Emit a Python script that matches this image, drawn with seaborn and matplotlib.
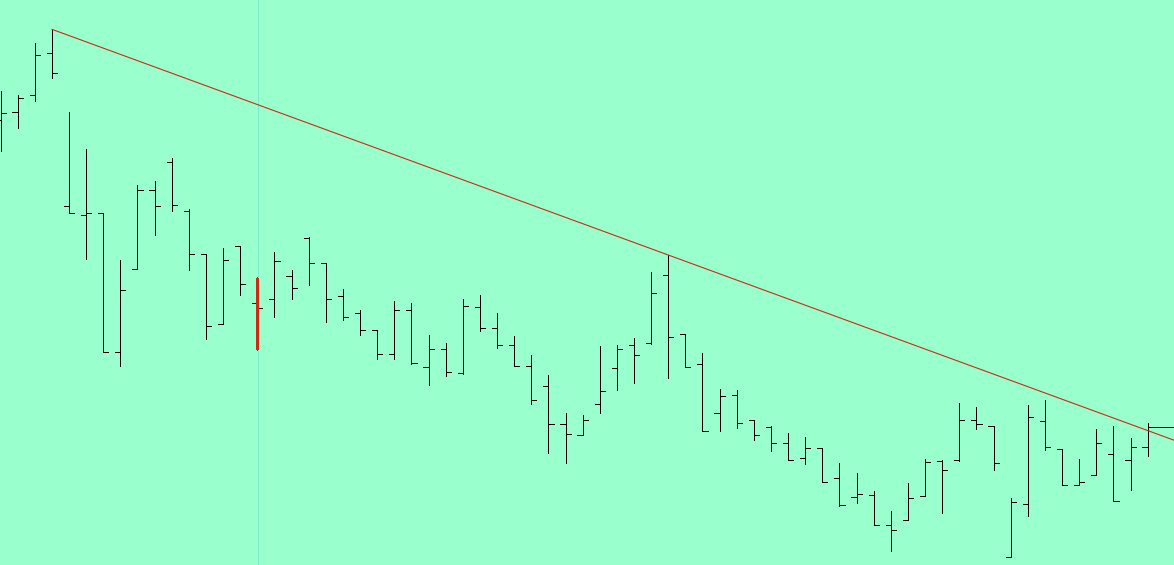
import numpy as np
import pandas as pd
import matplotlib
matplotlib.use("Agg")
import matplotlib.pyplot as plt
import seaborn as sns

# OHLC levels (screen units, 0 = top, larger = lower price)
opens = [120, 112.3, 95.3, 53, 206.3, 215.3, 213, 352, 269.3, 190.3,
         162.3, 211, 254, 324, 246, 303.3, 299.3, 276, 237.7, 263.3,
         296, 313, 330.3, 354.3, 310.3, 367, 349, 372.7, 307.3, 328.3,
         345.3, 366.3, 386.3, 424.3, 435.3, 404.3, 368.3, 345.3, 342.7, 275,
         334.3, 364.3, 413.3, 395.3, 420.3, 427.3, 443, 458.3, 448.3, 478.3,
         497.3, 495.3, 525.3, 520.3, 496.3, 461.3, 460.3, 420.3, 426.3, 557.3,
         504.3, 421.3, 449.3, 485.3, 475.3, 454.3, 460.3, 447.3]
highs = [90.7, 95.3, 43, 29.3, 112, 149, 213, 260, 185, 181,
         158, 208.7, 254, 248, 245.7, 278, 252.3, 270.3, 236.7, 263.3,
         289.3, 310, 330.3, 301, 303, 335.3, 343.3, 299, 295, 313.3,
         336.3, 355.3, 375.3, 413, 415, 346, 345.3, 338.3, 272, 255,
         334.3, 353.3, 389.3, 390.3, 420.3, 425.7, 433.3, 437.3, 448.3, 463.3,
         473.3, 491.3, 511.3, 483.3, 459.3, 460.3, 403.3, 407.3, 426.3, 498.3,
         405, 400.3, 449.3, 459.3, 429.3, 426.3, 438.3, 423.3]
lows = [150.7, 128.3, 101.3, 77.7, 212.7, 259.3, 352, 365.7, 269.3, 235.3,
        210.7, 270.3, 339.3, 324, 295.3, 349.3, 317.3, 298.7, 284.7, 321.7,
        320, 335.3, 359.3, 359.3, 364.3, 384.7, 375.7, 374.3, 331.3, 348.3,
        366.3, 404.3, 453.3, 463.3, 435.3, 412.7, 390.3, 382.7, 344.3, 378.3,
        366.7, 431.3, 430.7, 427.7, 440.3, 450.7, 460.3, 464.3, 482.3, 506,
        503.3, 525.3, 550.7, 520.3, 496.3, 512.7, 460.7, 428.7, 470.3, 557.3,
        515.7, 450.3, 485.3, 485.3, 475.3, 501.3, 490.3, 456.3]
closes = [113.3, 98.3, 55.3, 73, 212.7, 213, 352, 290.3, 190.3, 206.3,
          205.3, 254.3, 326.3, 260.3, 284.3, 308.3, 261.3, 288.3, 263.3, 299.3,
          317.3, 330.3, 354.3, 310.3, 362.7, 349, 372.3, 306.3, 328.3, 345.3,
          366.3, 400.3, 424.3, 434.3, 420.3, 391.3, 349.3, 355.3, 293.3, 337.3,
          366.7, 431.3, 396.3, 423.3, 435.3, 443, 460.3, 448.3, 482.3, 505.3,
          494.3, 525.3, 530.3, 498.3, 462.3, 470.3, 420.3, 424.3, 463.3, 502.3,
          417.3, 447.3, 485.3, 482.3, 443.3, 501.3, 447.3, 427.3]

selected_bar = 15          # highlighted bar with the cursor line
trend_from, trend_to = 3, 39   # trendline drawn through these two highs

BG = "#99ffcc"
RED = "#cc2a14"
n = len(opens)
idx = np.arange(n)
tick = 0.3
xmin, xmax = -0.03, 68.54

# long-form table of line segments for seaborn
rows = []
for i in idx:
    segs = [((i - tick, opens[i]), (i, opens[i])),
            ((i, closes[i]), (i + tick, closes[i]))]
    if i != selected_bar:
        segs.append(((i, highs[i]), (i, lows[i])))
    for k, (a, b) in enumerate(segs):
        rows.append({"x": a[0], "y": a[1], "seg": f"{i}_{k}"})
        rows.append({"x": b[0], "y": b[1], "seg": f"{i}_{k}"})
# last close extended to the right edge
rows.append({"x": n - 1, "y": closes[-1], "seg": "last"})
rows.append({"x": xmax, "y": closes[-1], "seg": "last"})
segs_df = pd.DataFrame(rows)

sns.set_style("white")
fig = plt.figure(figsize=(11.74, 5.65), dpi=100)
fig.patch.set_facecolor(BG)
ax = fig.add_axes([0, 0, 1, 1])
ax.set_facecolor(BG)

# cursor line behind the bars
ax.axvline(selected_bar + 0.04, color="#78ecc8", lw=0.72, antialiased=False, zorder=0)

sns.lineplot(data=segs_df, x="x", y="y", units="seg", color="black",
             estimator=None, sort=False, lw=0.72, antialiased=False, ax=ax)

# selected bar's range in red
sns.lineplot(x=[selected_bar, selected_bar],
             y=[highs[selected_bar], lows[selected_bar]],
             color=RED, lw=0.9, antialiased=False, estimator=None,
             sort=False, ax=ax, zorder=5)

# trendline through two highs, extended to the right edge
slope = (highs[trend_to] - highs[trend_from]) / (trend_to - trend_from)
tx = np.array([trend_from, xmax])
ty = highs[trend_from] + slope * (tx - trend_from)
sns.lineplot(x=tx, y=ty, color=RED, lw=0.8, estimator=None, ax=ax)

ax.set_xlim(xmin, xmax)
ax.set_ylim(565, 0)
ax.axis("off")
fig.savefig("out.png", dpi=100, facecolor=BG)
